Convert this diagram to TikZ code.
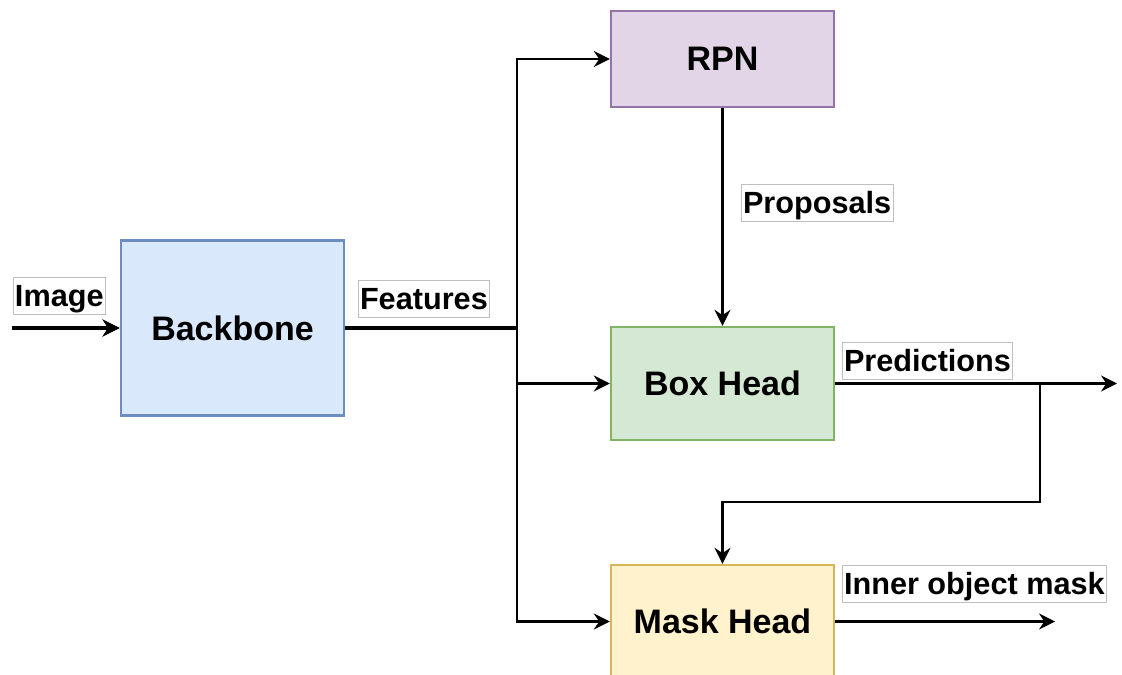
\documentclass[tikz,border=0pt]{standalone}
\usepackage{fontspec}
\setmainfont{Liberation Sans}
\usepackage{tikz}
\usetikzlibrary{arrows.meta, positioning}

\definecolor{bbfill}{HTML}{DAE8FC}
\definecolor{bbdraw}{HTML}{6C8EBF}
\definecolor{rpnfill}{HTML}{E1D5E7}
\definecolor{rpndraw}{HTML}{9673A6}
\definecolor{boxfill}{HTML}{D5E8D4}
\definecolor{boxdraw}{HTML}{82B366}
\definecolor{maskfill}{HTML}{FFF2CC}
\definecolor{maskdraw}{HTML}{D6B656}

\begin{document}
\begin{tikzpicture}[x=0.75pt, y=-0.75pt]
    % Define styles for the nodes
    \tikzstyle{block} = [
        draw, line width=1.8pt, text centered, minimum width=167.25pt,
        font=\fontsize{25.5}{30}\selectfont\bfseries
    ]
    \tikzstyle{tag} = [
        draw=black!25, line width=0.4pt, fill=white, inner xsep=1.3pt,
        inner ysep=1pt, text height=21pt, text depth=5pt,
        font=\fontsize{23}{27}\selectfont\bfseries
    ]
    \tikzstyle{arrow} = [
        line width=1.7pt, -{Stealth[length=12pt, width=12pt, inset=4pt]}
    ]
    \tikzstyle{thick_arrow} = [
        line width=2.4pt, -{Stealth[length=13pt, width=13pt, inset=4pt]}
    ]

    \useasboundingbox (0,0) rectangle (1122,675);

    % Blocks
    \node[block, fill=bbfill, draw=bbdraw, minimum height=131.25pt]
        (backbone) at (232.5,328) {Backbone};
    \node[block, fill=rpnfill, draw=rpndraw, minimum height=72pt]
        (rpn) at (722.5,59) {RPN};
    \node[block, fill=boxfill, draw=boxdraw, minimum height=84.75pt]
        (boxhead) at (722.5,383.5) {Box Head};
    \node[block, fill=maskfill, draw=maskdraw, minimum height=84.75pt]
        (maskhead) at (722.5,621.5) {Mask Head};

    % Free ends and bends
    \coordinate (input) at (12,328);
    \coordinate (split) at (517,328);
    \coordinate (predout) at (1117,383.5);
    \coordinate (fork) at (1040,383.5);
    \coordinate (bend) at (1040,502);
    \coordinate (maskout) at (1055,621.5);

    % Input and features
    \draw[thick_arrow] (input) -- (backbone.west);
    \draw[line width=2.4pt] (backbone.east) -- (split);
    \draw[arrow] (split) |- (rpn.west);
    \draw[arrow] (split) |- (boxhead.west);
    \draw[arrow] (split) |- (maskhead.west);

    % Proposals
    \draw[arrow] (rpn.south) -- (boxhead.north);

    % Predictions
    \draw[arrow] (boxhead.east) -- (predout);
    \draw[arrow] (fork) -- (bend) -| (maskhead.north);

    % Mask output
    \draw[arrow] (maskhead.east) -- (maskout);

    % Labels
    \node[tag, anchor=south west] (image_lbl) at (13,315) {Image};
    \node[tag, anchor=south west] (features_lbl) at (358,318) {Features};
    \node[tag, anchor=west] (proposals_lbl) at (741,202.5) {Proposals};
    \node[tag, anchor=south west] (predictions_lbl) at (842,380) {Predictions};
    \node[tag, anchor=south west] (mask_lbl) at (842,603) {Inner object mask};

\end{tikzpicture}
\end{document}
